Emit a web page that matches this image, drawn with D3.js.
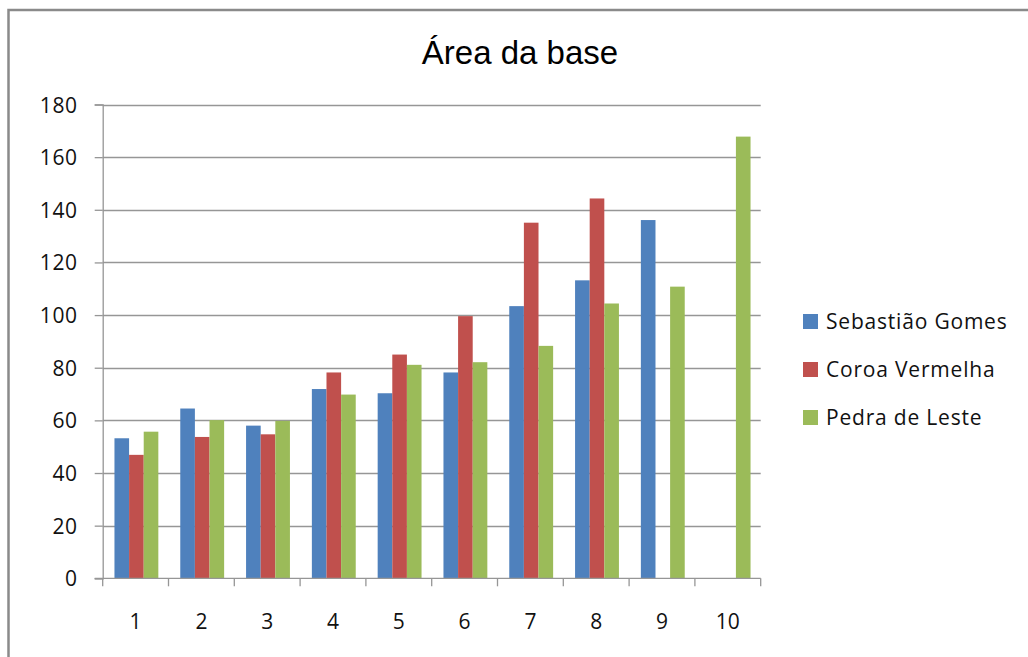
<!DOCTYPE html>
<html>
<head>
<meta charset="utf-8">
<script src="https://cdn.jsdelivr.net/npm/d3@7"></script>
<style>
  html, body { margin: 0; padding: 0; background: #fff; }
  svg { display: block; }
</style>
</head>
<body>
<svg id="chart" width="1028" height="657"></svg>
<script>
// Área da base – three sites measured at ten positions
const categories = ["1", "2", "3", "4", "5", "6", "7", "8", "9", "10"];
const seriesNames = ["Sebastião Gomes", "Coroa Vermelha", "Pedra de Leste"];
const sebastiaoGomes = [53.2, 64.5, 58.0, 71.9, 70.3, 78.2, 103.4, 113.2, 136.1, null];
const coroaVermelha  = [46.9, 53.7, 54.7, 78.2, 85.0, 99.6, 135.1, 144.3, null, null];
const pedraDeLeste   = [55.7, 60.1, 59.8, 69.8, 81.1, 82.1, 88.3, 104.4, 110.8, 167.8];
const yTicks = [0, 20, 40, 60, 80, 100, 120, 140, 160, 180];
const colors = ["#4F81BD", "#C0504D", "#9BBB59"];

const seriesValues = [sebastiaoGomes, coroaVermelha, pedraDeLeste];

const svg = d3.select("#chart");
const labelFont = "'Open Sans', 'DejaVu Sans', sans-serif";

// outer chart frame
svg.append("rect")
  .attr("x", 8.5).attr("y", 10)
  .attr("width", 1040).attr("height", 680)
  .attr("fill", "#fff")
  .attr("stroke", "#8a8a8a")
  .attr("stroke-width", 2.5);

// title
svg.append("text")
  .attr("x", 520).attr("y", 64)
  .attr("text-anchor", "middle")
  .attr("font-family", "'Liberation Sans', Arial, sans-serif")
  .attr("font-size", 33)
  .attr("fill", "#000")
  .text("Área da base");

const plotLeft = 102.7, plotRight = 760.7;
const x0 = d3.scaleBand().domain(categories).range([plotLeft, plotRight]);
// gap width of 150% of a bar between clusters
const barW = x0.bandwidth() / 4.5;
const x1 = d3.scaleBand().domain(seriesNames)
  .range([x0.bandwidth() / 2 - 1.5 * barW + 0.8, x0.bandwidth() / 2 + 1.5 * barW + 0.8]);
const y = d3.scaleLinear().domain([0, 180]).range([578.3, 104.5]);

// horizontal gridlines
svg.append("g")
  .selectAll("line")
  .data(yTicks.filter(d => d > 0))
  .join("line")
  .attr("x1", plotLeft).attr("x2", plotRight)
  .attr("y1", d => Math.round(y(d)) + 0.5).attr("y2", d => Math.round(y(d)) + 0.5)
  .attr("stroke", "#969696").attr("stroke-width", 1.3);

// bars
const groups = svg.append("g")
  .selectAll("g")
  .data(seriesNames)
  .join("g")
  .attr("fill", (d, i) => colors[i]);

groups.selectAll("rect")
  .data((name, si) => categories.map((c, ci) => ({ c, name, v: seriesValues[si][ci] }))
    .filter(d => d.v != null))
  .join("rect")
  .attr("x", d => x0(d.c) + x1(d.name))
  .attr("width", x1.bandwidth())
  .attr("y", d => y(d.v))
  .attr("height", d => y(0) - y(d.v));

// y axis
const yAxis = d3.axisLeft(y).tickValues(yTicks).tickSize(8).tickPadding(17).tickFormat(d3.format("d"));
const gy = svg.append("g")
  .attr("transform", `translate(${plotLeft},0)`)
  .call(yAxis);
gy.select(".domain").attr("stroke", "#969696").attr("stroke-width", 1.3);
gy.selectAll(".tick line").attr("stroke", "#969696").attr("stroke-width", 1.3);
gy.selectAll(".tick text")
  .attr("font-family", labelFont).attr("font-size", 21).attr("fill", "#111")
  .attr("letter-spacing", 0.6)
  .attr("dy", "0.36em");

// x axis with ticks at cluster boundaries
const gx = svg.append("g").attr("transform", `translate(0,${y(0)})`);
gx.append("line")
  .attr("x1", plotLeft - 8).attr("x2", plotRight)
  .attr("stroke", "#969696").attr("stroke-width", 1.3);
const boundaries = categories.map(c => x0(c)).concat([plotRight]);
gx.selectAll("line.tk")
  .data(boundaries)
  .join("line")
  .attr("class", "tk")
  .attr("x1", d => d).attr("x2", d => d)
  .attr("y1", 0).attr("y2", 8)
  .attr("stroke", "#969696").attr("stroke-width", 1.3);
gx.selectAll("text")
  .data(categories)
  .join("text")
  .attr("x", d => x0(d) + x0.bandwidth() / 2)
  .attr("y", 51)
  .attr("text-anchor", "middle")
  .attr("font-family", labelFont).attr("font-size", 21).attr("fill", "#111")
  .text(d => d);

// legend
const legend = svg.append("g").attr("transform", "translate(803,314)");
const items = legend.selectAll("g")
  .data(seriesNames)
  .join("g")
  .attr("transform", (d, i) => `translate(0,${i * 48})`);
items.append("rect")
  .attr("width", 15).attr("height", 15)
  .attr("fill", (d, i) => colors[i]);
items.append("text")
  .attr("x", 23).attr("y", 15)
  .attr("font-family", labelFont).attr("font-size", 21).attr("fill", "#111")
  .attr("letter-spacing", 0.8)
  .text(d => d);
</script>
</body>
</html>
